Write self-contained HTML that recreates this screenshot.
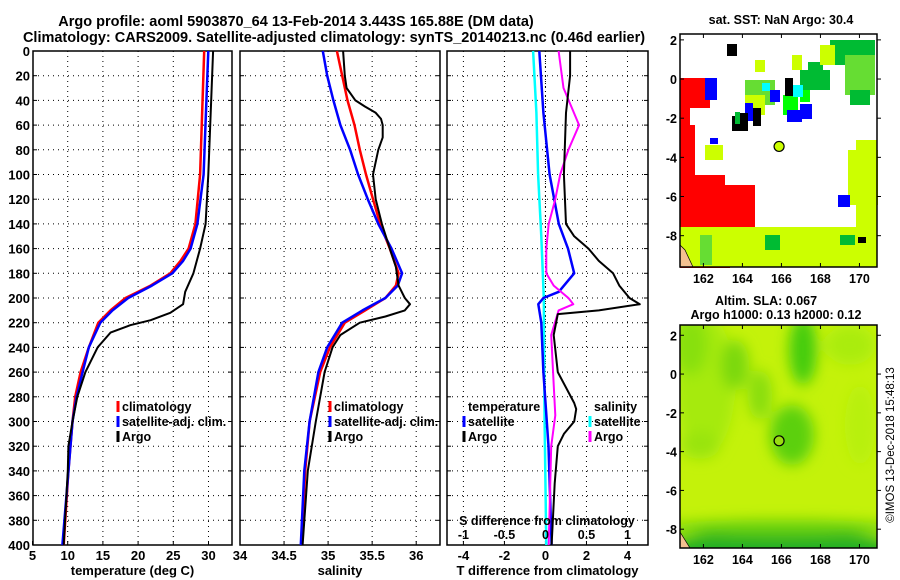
<!DOCTYPE html>
<html><head><meta charset="utf-8"><style>
body{margin:0;background:#fff}
svg{display:block;font-family:"Liberation Sans",sans-serif;font-weight:bold}
</style></head><body>
<svg id="c" width="900" height="580" viewBox="0 0 900 580">
<text x="296" y="26" font-size="14.5" text-anchor="middle">Argo profile: aoml 5903870_64 13-Feb-2014 3.443S 165.88E (DM data)</text>
<text x="334" y="42" font-size="14.5" text-anchor="middle">Climatology: CARS2009. Satellite-adjusted climatology: synTS_20140213.nc (0.46d earlier)</text>
<g id="maps"></g>
<text transform="translate(894,445) rotate(-90)" font-size="11.5" font-weight="normal" text-anchor="middle">©IMOS 13-Dec-2018 15:48:13</text>
</svg>
<script>
const NS='http://www.w3.org/2000/svg';
const svg=document.getElementById('c');
function mk(t,a,p){const e=document.createElementNS(NS,t);for(const k in a)e.setAttribute(k,a[k]);(p||svg).appendChild(e);return e;}
// ---- data ----
const depthTicks=[0,20,40,60,80,100,120,140,160,180,200,220,240,260,280,300,320,340,360,380,400];
const tempTicks=[5,10,15,20,25,30];
const salTicks=[34,34.5,35,35.5,36];
const salTickLabels=['34','34.5','35','35.5','36'];
const tdiffTicks=[-4,-2,0,2,4];
const sdiffTicks=[-1,-0.5,0,0.5,1];
const sdiffTickLabels=['-1','-0.5','0','0.5','1'];
const argoTDepth=[0,100,140,160,180,195,205,212,218,222,228,240,260,280,300,320,340,400];
const argoT=[30.65,29.97,29.59,28.81,27.85,26.69,26.40,24.57,21.77,18.88,16.08,14.25,12.51,11.36,10.68,10.10,10.01,9.43];
const climTDepth=[0,100,140,160,170,180,190,200,210,220,240,260,280,300,340,400];
const climT=[29.39,28.81,28.14,27.17,26.02,24.57,21.77,18.21,16.08,14.34,12.99,11.83,11.07,10.68,10.10,9.43];
const satTDepth=[0,100,140,160,170,180,190,200,210,220,240,260,280,300,400];
const satT=[29.97,29.30,28.43,27.46,26.40,24.86,21.96,18.59,16.37,14.63,12.99,12.12,11.26,10.68,9.24];
const argoSDepth=[0,20,30,40,45,50,55,60,70,80,100,120,140,160,175,190,200,205,210,215,220,230,240,260,300,340,400];
const argoS=[35.17,35.19,35.21,35.31,35.42,35.54,35.60,35.62,35.62,35.57,35.51,35.54,35.61,35.70,35.77,35.80,35.87,35.93,35.87,35.65,35.36,35.14,35.05,34.96,34.86,34.77,34.71];
const climSDepth=[0,20,40,60,80,100,120,140,160,180,190,200,210,220,240,260,300,340,400];
const climS=[35.10,35.16,35.22,35.30,35.36,35.43,35.51,35.59,35.70,35.80,35.77,35.65,35.42,35.19,35.02,34.91,34.79,34.74,34.70];
const satS=[34.94,34.99,35.06,35.14,35.25,35.34,35.45,35.57,35.72,35.84,35.79,35.65,35.39,35.16,34.99,34.89,34.79,34.73,34.69];
const argoTdDepth=[0,20,50,100,140,150,160,170,180,190,200,205,210,213,230,260,285,290,300,310,320,350,400];
const argoTd=[1.2,1.2,1.0,0.9,1.0,1.4,2.1,2.6,3.3,3.6,4.1,4.6,2.6,0.6,0.4,0.6,1.4,1.5,1.4,0.9,0.6,0.45,0.3];
const argoSdDepth=[0,30,60,80,100,120,140,160,180,190,200,205,210,230,270,295,320,400];
const argoSd=[0.16,0.22,0.41,0.28,0.18,0.12,0.04,0.01,0.01,0.10,0.28,0.34,0.16,0.07,0.10,0.12,0.07,0.04];
const satTdDepth=[0,50,100,140,160,180,195,200,205,220,260,320,400];
const satTd=[-0.3,-0.1,0.2,0.65,1.1,1.4,0.65,-0.1,-0.35,-0.2,-0.1,0.15,0.3];
const satSdDepth=[0,50,100,150,200,300,400];
const satSd=[-0.15,-0.11,-0.09,-0.05,-0.02,-0.01,0.01];
// ---- axes ----
const Y0=51,Y1=545;
const y=d=>Y0+(d/400)*(Y1-Y0);
function panel(name,x0,x1,vmin,vmax,ticks,labels,xlabel,ylabels){
  const sx=v=>x0+(v-vmin)/(vmax-vmin)*(x1-x0);
  const g=mk('g',{});
  
  
  depthTicks.forEach(d=>{
    if(d>0&&d<400){const l=mk('line',{x1:x0,x2:x1,y1:y(d),y2:y(d),stroke:'#000','stroke-dasharray':'1 4','stroke-width':1},g);
    }
    mk('line',{x1:x0,x2:x0+4,y1:y(d),y2:y(d),stroke:'#000'},g);
    mk('line',{x1:x1-4,x2:x1,y1:y(d),y2:y(d),stroke:'#000'},g);
    if(ylabels){const t=mk('text',{x:x0-3,y:y(d)+5,'font-size':13,'text-anchor':'end'},g);t.textContent=d;
      }
  });
  ticks.forEach((v,i)=>{
    const X=sx(v);
    if(X>x0+1&&X<x1-1){const l=mk('line',{x1:X,x2:X,y1:Y0,y2:Y1,stroke:'#000','stroke-dasharray':'1 4'},g);
    }
    mk('line',{x1:X,x2:X,y1:Y1,y2:Y1-4,stroke:'#000'},g);
    const t=mk('text',{x:X,y:560,'font-size':13,'text-anchor':'middle'},g);t.textContent=labels[i];
    
  });
  mk('rect',{x:x0,y:Y0,width:x1-x0,height:Y1-Y0,fill:'none',stroke:'#000','stroke-width':1.5},g);
  const xl=mk('text',{x:(x0+x1)/2,y:575,'font-size':13,'text-anchor':'middle'},g);xl.textContent=xlabel;
  
  return {sx,g};
}
function line(p,depths,vals,color,name,w){
  const pts=depths.map((d,i)=>p.sx(vals[i]).toFixed(1)+','+y(d).toFixed(1)).join(' ');
  const e=mk('polyline',{points:pts,fill:'none',stroke:color,'stroke-width':w||2.5,'stroke-linejoin':'round'},p.g);
  
}
function legend(g,x,yy,color,text,name){
  if(color){mk('line',{x1:x,x2:x,y1:yy-10,y2:yy+1,stroke:color,'stroke-width':3},g);}
  const t=mk('text',{x:x+4,y:yy,'font-size':12.5},g);t.textContent=text;
  
}
// panel 1
const p1=panel('temperature-panel',33,232,5.07,33.34,tempTicks,tempTicks.map(String),'temperature (deg C)',true);
line(p1,climTDepth,climT,'#f00','climatology-temp-line');
line(p1,satTDepth,satT,'#00f','satellite-temp-line');
line(p1,argoTDepth,argoT,'#000','argo-temp-line',2);
legend(p1.g,118,411,'#f00','climatology','legend-climatology');
legend(p1.g,118,426,'#00f','satellite-adj. clim.','legend-satellite');
legend(p1.g,118,441,'#000','Argo','legend-argo');
// panel 2
const p2=panel('salinity-panel',240,440,34.0,36.27,salTicks,salTickLabels,'salinity',false);
line(p2,climSDepth,climS,'#f00','climatology-sal-line');
line(p2,climSDepth,satS,'#00f','satellite-sal-line');
line(p2,argoSDepth,argoS,'#000','argo-sal-line',2);
legend(p2.g,330,411,'#f00','climatology','legend-climatology-s');
legend(p2.g,330,426,'#00f','satellite-adj. clim.','legend-satellite-s');
legend(p2.g,330,441,'#000','Argo','legend-argo-s');
// panel 3
const p3=panel('difference-panel',447,648,-4.8,5.0,tdiffTicks,tdiffTicks.map(String),'T difference from climatology',false);
const p3s={sx:v=>p3.sx(v*4),g:p3.g};
mk('line',{x1:p3.sx(0),x2:p3.sx(0),y1:Y0,y2:Y1,stroke:'#000','stroke-dasharray':'1 3'},p3.g);
line(p3s,satSdDepth,satSd,'#0ff','satellite-sdiff-line');
line(p3,satTdDepth,satTd,'#00f','satellite-tdiff-line');
line(p3s,argoSdDepth,argoSd,'#f0f','argo-sdiff-line',2);
line(p3,argoTdDepth,argoTd,'#000','argo-tdiff-line',2);
legend(p3.g,464,411,null,'temperature','legend-temperature-header');
legend(p3.g,464,426,'#00f','satellite','legend-t-satellite');
legend(p3.g,464,441,'#000','Argo','legend-t-argo');
legend(p3.g,590,411,null,'salinity','legend-salinity-header');
legend(p3.g,590,426,'#0ff','satellite','legend-s-satellite');
legend(p3.g,590,441,'#f0f','Argo','legend-s-argo');
const st=mk('text',{x:547,y:525,'font-size':12.5,'text-anchor':'middle'},p3.g);st.textContent='S difference from climatology';

sdiffTicks.forEach((v,i)=>{const t=mk('text',{x:p3s.sx(v),y:539,'font-size':12.5,'text-anchor':'middle'},p3.g);t.textContent=sdiffTickLabels[i];
 });
// ---- maps ----
const M=document.getElementById('maps');
const lonTicks=[162,164,166,168,170];
const latTicks=[2,0,-2,-4,-6,-8];
function map(name,y0,y1,latTop,latBot,lonL,lonR){
  const g=mk('g',{},M);
  const X0=680,X1=877;
  const sx=l=>X0+(l-lonL)/(lonR-lonL)*(X1-X0);
  const sy=l=>y0+(latTop-l)/(latTop-latBot)*(y1-y0);
  return {g,sx,sy,X0,X1,y0,y1};
}
function frame(m){
  const g=m.g;
  mk('rect',{x:m.X0,y:m.y0,width:m.X1-m.X0,height:m.y1-m.y0,fill:'none',stroke:'#000','stroke-width':1.5},g);
  lonTicks.forEach(l=>{const X=m.sx(l);mk('line',{x1:X,x2:X,y1:m.y1,y2:m.y1-4,stroke:'#000'},g);mk('line',{x1:X,x2:X,y1:m.y0,y2:m.y0+4,stroke:'#000'},g);
   const t=mk('text',{x:X,y:m.y1+16,'font-size':12.5,'text-anchor':'middle'},g);t.textContent=l;});
  latTicks.forEach(l=>{const Y=m.sy(l);if(Y<m.y0||Y>m.y1)return;mk('line',{x1:m.X0,x2:m.X0+4,y1:Y,y2:Y,stroke:'#000'},g);mk('line',{x1:m.X1,x2:m.X1+4,y1:Y,y2:Y,stroke:'#000'},g);
   const t=mk('text',{x:m.X0-3,y:Y+5,'font-size':12.5,'text-anchor':'end'},g);t.textContent=l;});
}
// top SST map
const m1=map('sst-map',34,267,2.3,-9.6,160.8,170.9);
mk('rect',{x:680,y:34,width:197,height:233,fill:'#fff'},m1.g);
const blocks=[
['#f00',680,78,30,30],['#f00',680,125,15,55],['#f00',680,100,10,25],['#f00',680,175,45,20],['#f00',680,190,40,45],['#f00',720,185,35,45],['#f00',680,228,50,40],['#f00',730,240,20,25],['#f00',695,210,30,20],
['#cf0',680,227,197,40],['#cf0',856,140,21,100],['#cf0',848,150,30,55],['#6d3',700,235,12,30],['#0b3',765,235,15,15],['#0b3',840,235,15,10],
['#cf0',755,60,10,12],['#cf0',792,55,10,15],['#0b3',808,62,15,12],['#0b3',830,40,45,25],['#6d3',845,55,30,40],['#cf0',820,45,15,20],['#0b3',850,90,20,15],
['#6d3',745,80,30,25],['#cf0',745,95,20,20],['#0f0',783,95,15,20],['#0b3',800,70,30,20],['#0f0',800,90,10,12],
['#00f',705,78,12,22],['#00f',745,103,8,18],['#00f',770,90,10,12],['#00f',787,110,15,12],['#00f',800,104,12,15],['#00f',838,195,12,12],['#00f',710,138,8,6],
['#000',727,44,10,12],['#000',785,78,8,18],['#000',753,108,8,18],['#000',738,113,10,18],['#000',732,116,8,15],['#000',858,237,8,6],
['#0ff',793,85,10,12],['#0ff',762,83,8,8],['#cf0',705,145,18,15],['#0b3',735,112,5,12]];
blocks.forEach(b=>{mk('rect',{x:b[1],y:b[2],width:b[3],height:b[4],fill:b[0]},m1.g);});
mk('polygon',{points:'680,245 680,267 693,267 685,250',fill:'#f4c090',stroke:'#000','stroke-width':0.7},m1.g);
frame(m1);
const d1=mk('circle',{cx:m1.sx(165.88),cy:m1.sy(-3.443),r:5,fill:'#cf0',stroke:'#000','stroke-width':1.2},m1.g);

// bottom SLA map
const m2=map('sla-map',325,548,2.53,-8.97,160.8,170.9);
const defs=mk('defs',{});
defs.innerHTML='<filter id="bl"><feGaussianBlur stdDeviation="7"/></filter><clipPath id="cp"><rect x="680" y="325" width="197" height="223"/></clipPath>';
const gg=mk('g',{'clip-path':'url(#cp)'},m2.g);
mk('rect',{x:680,y:325,width:197,height:223,fill:'#c4f20a'},gg);
const gf=mk('g',{filter:'url(#bl)'},gg);
[[705,385,30,70,'#a6ea10'],[690,345,18,30,'#88e010'],[735,365,14,25,'#7ad810'],[803,350,14,35,'#44cc10'],[792,435,22,30,'#5cd010'],[700,445,20,14,'#99e410'],[760,395,12,25,'#88dd10'],[850,345,25,20,'#aaec10'],[860,425,15,40,'#b8f010'],[780,552,120,22,'#22b020'],[780,528,120,8,'#66d010']].forEach(e=>mk('ellipse',{cx:e[0],cy:e[1],rx:e[2],ry:e[3],fill:e[4]},gf));
mk('polygon',{points:'680,532 680,548 690,548',fill:'#f4c090',stroke:'#000','stroke-width':0.7},gg);
frame(m2);
const d2=mk('circle',{cx:m2.sx(165.88),cy:m2.sy(-3.443),r:5,fill:'#9d1',stroke:'#000','stroke-width':1.2},m2.g);

[['sat. SST: NaN Argo: 30.4',781,24,'sst-map-title'],['Altim. SLA: 0.067',766,305,'sla-map-title'],['Argo h1000: 0.13 h2000: 0.12',776,319,'argo-height-title']].forEach(a=>{
 const t=mk('text',{x:a[1],y:a[2],'font-size':12.5,'text-anchor':'middle'},M);t.textContent=a[0];
 });
</script>
</body></html>
